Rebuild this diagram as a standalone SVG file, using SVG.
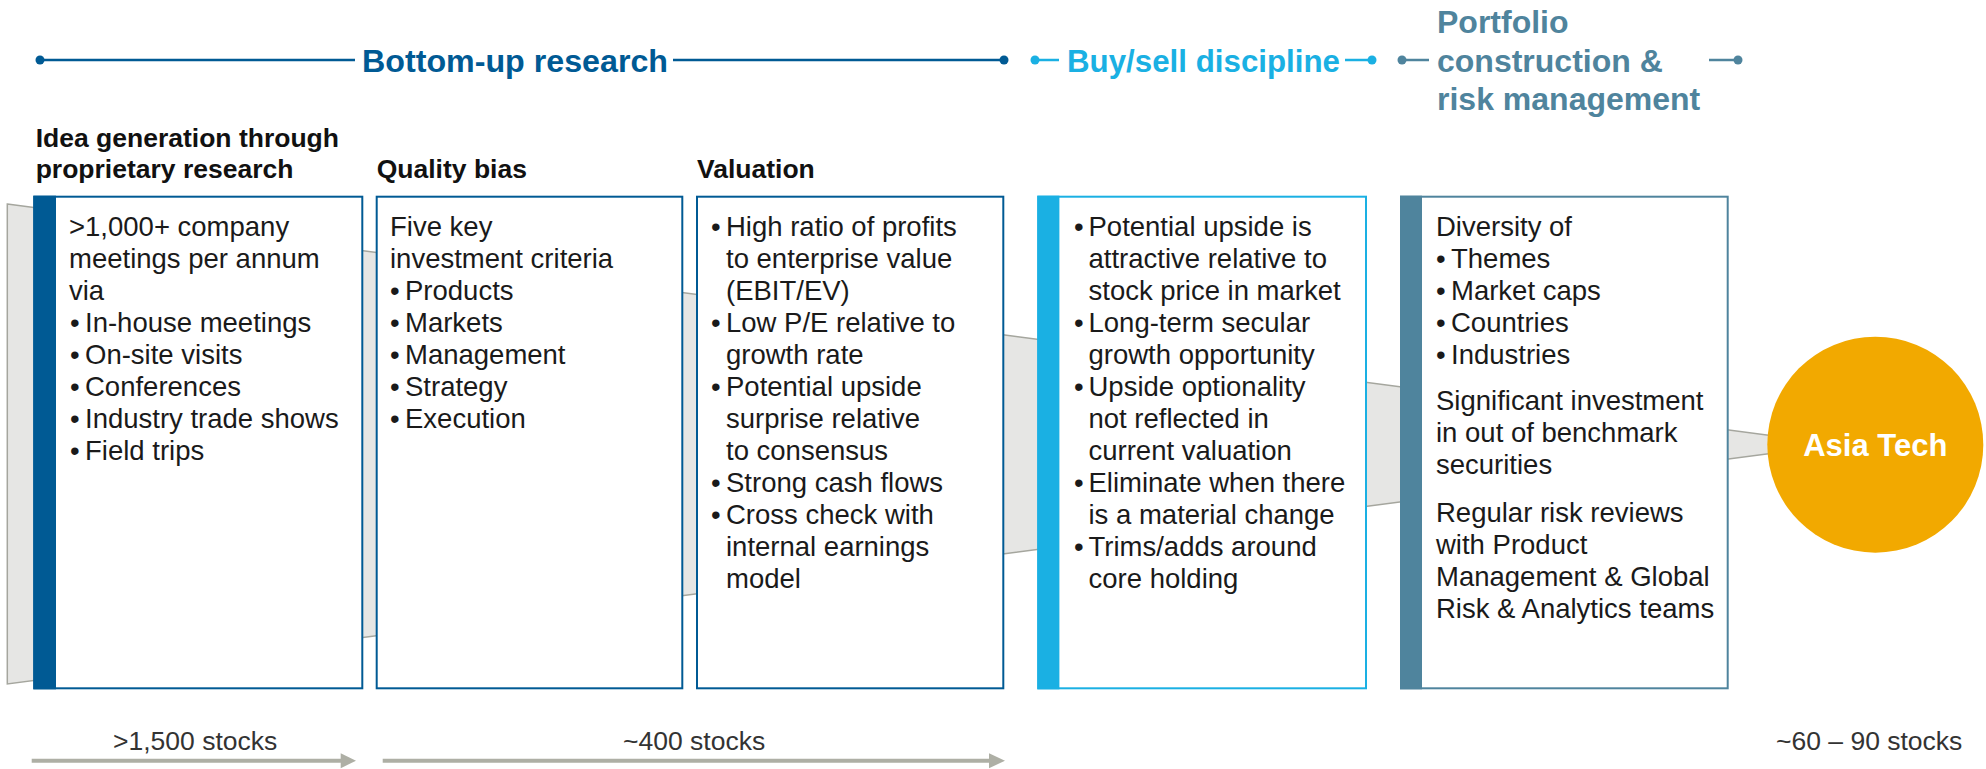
<svg xmlns="http://www.w3.org/2000/svg" width="1986" height="769" viewBox="0 0 1986 769">
<style>
  .body { font-family: "Liberation Sans", Arial, sans-serif; font-size: 27.5px; fill: #1a1a1a; }
  .head { font-family: "Liberation Sans", Arial, sans-serif; font-size: 26.5px; font-weight: bold; fill: #111111; }
  .title { font-family: "Liberation Sans", Arial, sans-serif; font-size: 32px; font-weight: bold; }
  .count { font-family: "Liberation Sans", Arial, sans-serif; font-size: 26.5px; fill: #333333; }
  .box { fill: #ffffff; stroke-width: 2; }
  .dk { stroke: #005a94; }
  .cy { stroke: #1ab0e3; }
  .st { stroke: #4f849d; }
  .tl { stroke-width: 2.5; fill: none; }
  .arrowline { stroke: #aeafa5; stroke-width: 4; fill: none; }
  .arrowhead { fill: #aeafa5; }
</style>

<g id="funnel">
  <polygon points="7.3,204 1790,438 1790,451 7.3,684" fill="#e6e6e4" stroke="#a5a69e" stroke-width="1.5"/>
</g>

<g id="title-bottom-up">
  <line class="tl dk" x1="40" y1="60" x2="355" y2="60"/>
  <line class="tl dk" x1="673" y1="60" x2="1004" y2="60"/>
  <circle cx="40" cy="60" r="4.5" fill="#005a94"/>
  <circle cx="1004" cy="60" r="4.5" fill="#005a94"/>
  <text class="title" x="362" y="71.5" fill="#005a94" textLength="306" lengthAdjust="spacingAndGlyphs">Bottom-up research</text>
</g>
<g id="title-buy-sell">
  <line class="tl cy" x1="1035" y1="60" x2="1059" y2="60"/>
  <line class="tl cy" x1="1345" y1="60" x2="1372" y2="60"/>
  <circle cx="1035" cy="60" r="4.5" fill="#1ab0e3"/>
  <circle cx="1372" cy="60" r="4.5" fill="#1ab0e3"/>
  <text class="title" x="1067" y="71.5" fill="#1ab0e3" textLength="273" lengthAdjust="spacingAndGlyphs">Buy/sell discipline</text>
</g>
<g id="title-portfolio">
  <line class="tl st" x1="1402" y1="60" x2="1429" y2="60"/>
  <line class="tl st" x1="1709" y1="60" x2="1738" y2="60"/>
  <circle cx="1402" cy="60" r="4.5" fill="#4f849d"/>
  <circle cx="1738" cy="60" r="4.5" fill="#4f849d"/>
  <text class="title" fill="#4f849d"><tspan x="1437" y="33">Portfolio</tspan><tspan x="1437" y="71.5">construction &amp;</tspan><tspan x="1437" y="110">risk management</tspan></text>
</g>

<g id="headers">
  <text class="head"><tspan x="35.7" y="147.3">Idea generation through</tspan><tspan x="35.7" y="178">proprietary research</tspan></text>
  <text class="head" x="376.7" y="178">Quality bias</text>
  <text class="head" x="697" y="178">Valuation</text>
</g>

<g id="box-idea">
  <rect class="box dk" x="34.3" y="196.7" width="328" height="491.6"/>
  <rect x="33.3" y="195.7" width="22.7" height="493.6" fill="#005a94"/>
  <text class="body">
    <tspan x="69" y="236">&gt;1,000+ company</tspan>
    <tspan x="69" y="268">meetings per annum</tspan>
    <tspan x="69" y="300">via</tspan>
    <tspan x="70" y="332">•</tspan><tspan x="85" y="332">In-house meetings</tspan>
    <tspan x="70" y="364">•</tspan><tspan x="85" y="364">On-site visits</tspan>
    <tspan x="70" y="396">•</tspan><tspan x="85" y="396">Conferences</tspan>
    <tspan x="70" y="428">•</tspan><tspan x="85" y="428">Industry trade shows</tspan>
    <tspan x="70" y="460">•</tspan><tspan x="85" y="460">Field trips</tspan>
  </text>
</g>

<g id="box-quality">
  <rect class="box dk" x="376.7" y="196.7" width="305.6" height="491.6"/>
  <text class="body">
    <tspan x="390" y="236">Five key</tspan>
    <tspan x="390" y="268">investment criteria</tspan>
    <tspan x="390" y="300">•</tspan><tspan x="405" y="300">Products</tspan>
    <tspan x="390" y="332">•</tspan><tspan x="405" y="332">Markets</tspan>
    <tspan x="390" y="364">•</tspan><tspan x="405" y="364">Management</tspan>
    <tspan x="390" y="396">•</tspan><tspan x="405" y="396">Strategy</tspan>
    <tspan x="390" y="428">•</tspan><tspan x="405" y="428">Execution</tspan>
  </text>
</g>

<g id="box-valuation">
  <rect class="box dk" x="697" y="196.7" width="306.3" height="491.6"/>
  <text class="body">
    <tspan x="711" y="236">•</tspan><tspan x="726" y="236">High ratio of profits</tspan>
    <tspan x="726" y="268">to enterprise value</tspan>
    <tspan x="726" y="300">(EBIT/EV)</tspan>
    <tspan x="711" y="332">•</tspan><tspan x="726" y="332">Low P/E relative to</tspan>
    <tspan x="726" y="364">growth rate</tspan>
    <tspan x="711" y="396">•</tspan><tspan x="726" y="396">Potential upside</tspan>
    <tspan x="726" y="428">surprise relative</tspan>
    <tspan x="726" y="460">to consensus</tspan>
    <tspan x="711" y="492">•</tspan><tspan x="726" y="492">Strong cash flows</tspan>
    <tspan x="711" y="524">•</tspan><tspan x="726" y="524">Cross check with</tspan>
    <tspan x="726" y="556">internal earnings</tspan>
    <tspan x="726" y="588">model</tspan>
  </text>
</g>

<g id="box-buy-sell">
  <rect class="box cy" x="1038.3" y="196.7" width="327.7" height="491.6"/>
  <rect x="1037.3" y="195.7" width="22.1" height="493.6" fill="#1ab0e3"/>
  <text class="body">
    <tspan x="1074" y="236">•</tspan><tspan x="1088.5" y="236">Potential upside is</tspan>
    <tspan x="1088.5" y="268">attractive relative to</tspan>
    <tspan x="1088.5" y="300">stock price in market</tspan>
    <tspan x="1074" y="332">•</tspan><tspan x="1088.5" y="332">Long-term secular</tspan>
    <tspan x="1088.5" y="364">growth opportunity</tspan>
    <tspan x="1074" y="396">•</tspan><tspan x="1088.5" y="396">Upside optionality</tspan>
    <tspan x="1088.5" y="428">not reflected in</tspan>
    <tspan x="1088.5" y="460">current valuation</tspan>
    <tspan x="1074" y="492">•</tspan><tspan x="1088.5" y="492">Eliminate when there</tspan>
    <tspan x="1088.5" y="524">is a material change</tspan>
    <tspan x="1074" y="556">•</tspan><tspan x="1088.5" y="556">Trims/adds around</tspan>
    <tspan x="1088.5" y="588">core holding</tspan>
  </text>
</g>

<g id="box-portfolio">
  <rect class="box st" x="1401" y="196.7" width="326.7" height="491.6"/>
  <rect x="1400" y="195.7" width="22" height="493.6" fill="#4f849d"/>
  <text class="body">
    <tspan x="1436" y="236">Diversity of</tspan>
    <tspan x="1436" y="268">•</tspan><tspan x="1451" y="268">Themes</tspan>
    <tspan x="1436" y="300">•</tspan><tspan x="1451" y="300">Market caps</tspan>
    <tspan x="1436" y="332">•</tspan><tspan x="1451" y="332">Countries</tspan>
    <tspan x="1436" y="364">•</tspan><tspan x="1451" y="364">Industries</tspan>
    <tspan x="1436" y="410">Significant investment</tspan>
    <tspan x="1436" y="442">in out of benchmark</tspan>
    <tspan x="1436" y="474">securities</tspan>
    <tspan x="1436" y="522">Regular risk reviews</tspan>
    <tspan x="1436" y="554">with Product</tspan>
    <tspan x="1436" y="586">Management &amp; Global</tspan>
    <tspan x="1436" y="618">Risk &amp; Analytics teams</tspan>
  </text>
</g>

<g id="node-asia-tech">
  <circle cx="1875.3" cy="444.7" r="108" fill="#f2a900"/>
  <text x="1875.3" y="456" text-anchor="middle" font-family="Liberation Sans, Arial, sans-serif" font-size="31" font-weight="bold" fill="#ffffff">Asia Tech</text>
</g>

<g id="connectors">
  <line class="arrowline" x1="31.7" y1="760.7" x2="342" y2="760.7"/>
  <polygon class="arrowhead" points="340.7,753.2 356,760.7 340.7,768.2"/>
  <line class="arrowline" x1="382.7" y1="760.7" x2="990" y2="760.7"/>
  <polygon class="arrowhead" points="989,753.2 1005,760.7 989,768.2"/>
</g>

<g id="counts">
  <text class="count" x="113" y="750">&gt;1,500 stocks</text>
  <text class="count" x="623" y="750">~400 stocks</text>
  <text class="count" x="1776" y="750">~60 – 90 stocks</text>
</g>
</svg>
